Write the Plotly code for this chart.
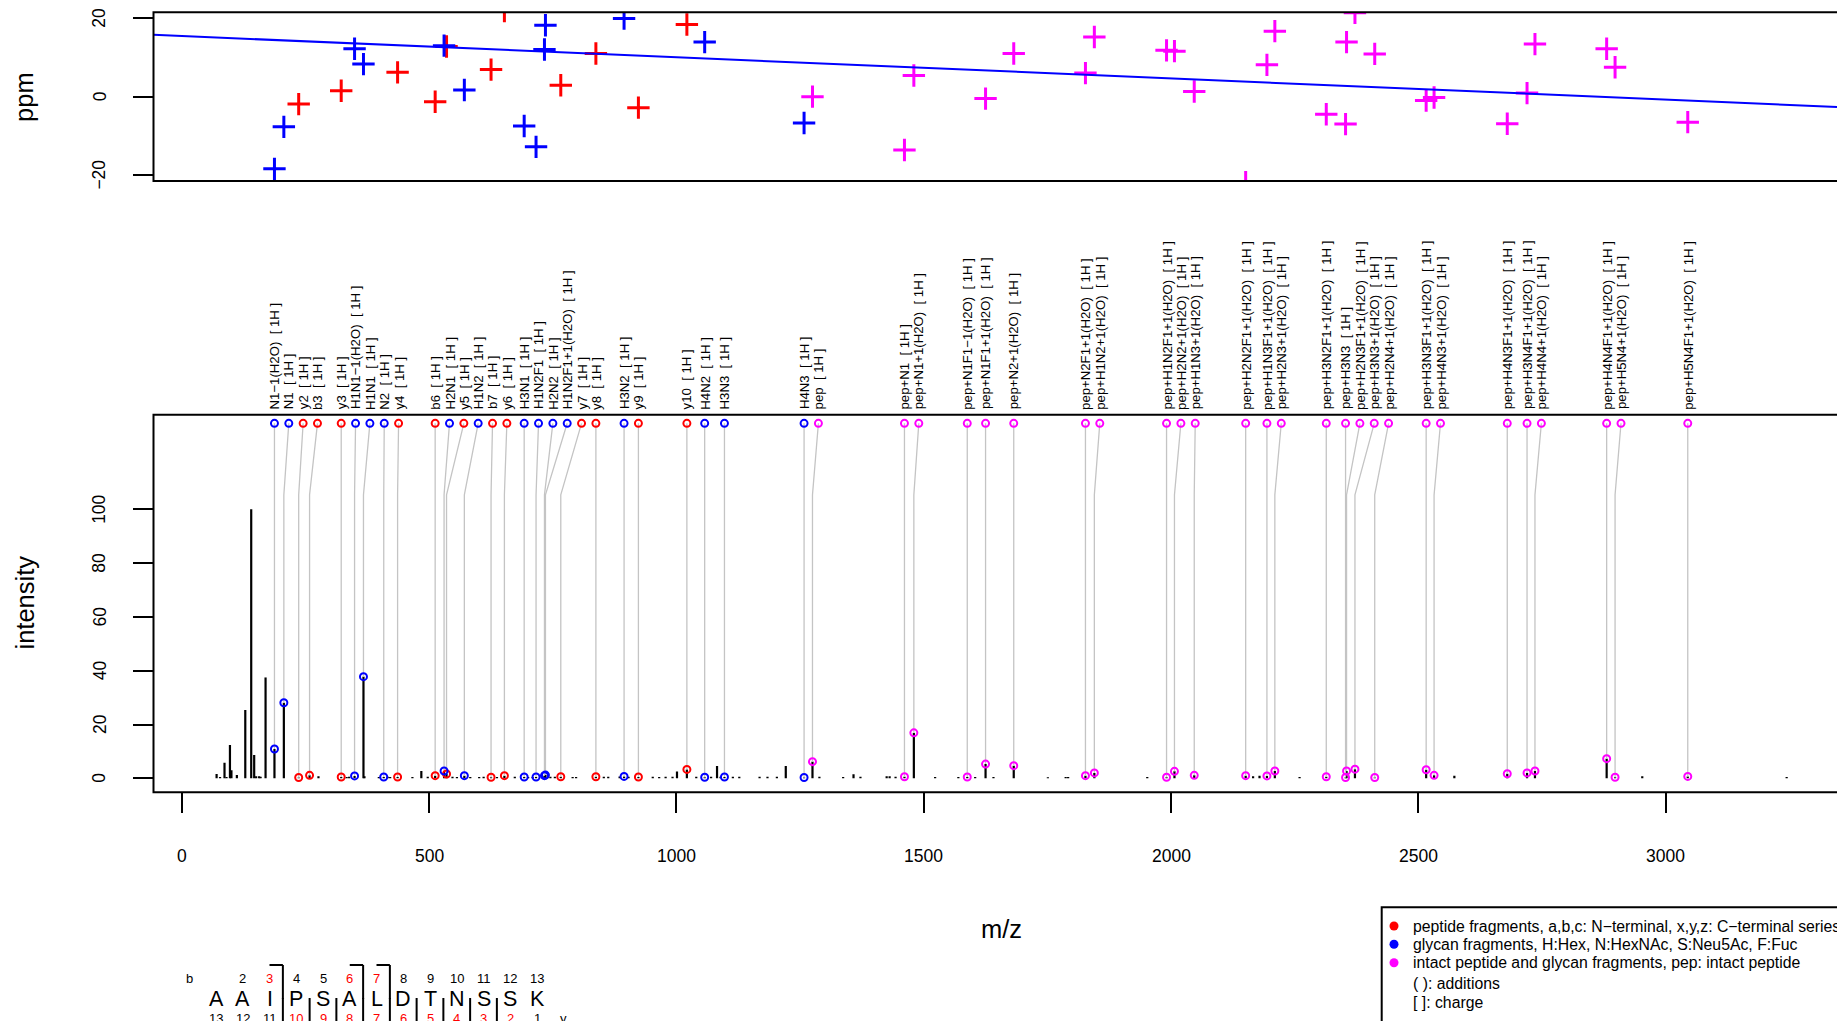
import re
import plotly.graph_objects as go

# ---------------- data ----------------
ion_labels = [
    "N1−1(H2O)", "N1", "y2", "b3", "y3", "H1N1−1(H2O)", "H1N1", "N2", "y4", "b6",
    "H2N1", "y5", "H1N2", "b7", "y6", "H3N1", "H1N2F1", "H2N2", "H1N2F1+1(H2O)", "y7",
    "y8", "H3N2", "y9", "y10", "H4N2", "H3N3", "H4N3", "pep", "pep+N1", "pep+N1+1(H2O)",
    "pep+N1F1−1(H2O)", "pep+N1F1+1(H2O)", "pep+N2+1(H2O)", "pep+N2F1+1(H2O)",
    "pep+H1N2+1(H2O)", "pep+H1N2F1+1(H2O)", "pep+H2N2+1(H2O)", "pep+H1N3+1(H2O)",
    "pep+H2N2F1+1(H2O)", "pep+H1N3F1+1(H2O)", "pep+H2N3+1(H2O)", "pep+H3N2F1+1(H2O)",
    "pep+H3N3", "pep+H2N3F1+1(H2O)", "pep+H3N3+1(H2O)", "pep+H2N4+1(H2O)",
    "pep+H3N3F1+1(H2O)", "pep+H4N3+1(H2O)", "pep+H4N3F1+1(H2O)", "pep+H3N4F1+1(H2O)",
    "pep+H4N4+1(H2O)", "pep+H4N4F1+1(H2O)", "pep+H5N4+1(H2O)", "pep+H5N4F1+1(H2O)",
]
ion_charge = "1H"
ion_mz = [187, 206, 236, 258, 322, 349, 367, 408, 436, 512,
          530, 535, 571, 625, 652, 692, 716, 733, 735, 766,
          837, 894, 923, 1021, 1057, 1097, 1258, 1275, 1461, 1480,
          1588, 1625, 1682, 1827, 1845, 1991, 2007, 2047, 2151, 2194,
          2210, 2314, 2353, 2355, 2372, 2412, 2516, 2532, 2680, 2720,
          2736, 2881, 2898, 3045]
ion_intensity = [10.9, 28.1, 0.3, 1.1, 0.5, 0.9, 37.8, 0.5, 0.5, 1.0,
                 2.7, 1.6, 1.0, 0.4, 1.0, 0.5, 0.5, 1.0, 1.2, 0.6,
                 0.6, 0.7, 0.5, 3.3, 0.4, 0.5, 0.3, 6.2, 0.6, 16.9,
                 0.5, 5.3, 4.7, 1.0, 2.0, 0.4, 2.6, 1.1, 1.0, 0.9,
                 2.7, 0.6, 0.3, 2.7, 3.4, 0.3, 3.2, 1.1, 1.7, 2.0,
                 2.7, 7.3, 0.4, 0.7]
ion_ppm = [-18.4, -7.7, -1.9, None, 1.5, 12.2, 8.3, None, 6.2, -1.3,
           13.0, 12.8, 1.7, 6.9, 21.8, -7.5, -12.8, 12.0, 18.2, 2.9,
           11.0, 19.9, -2.8, 18.4, 13.9, None, -6.7, 0.0, -13.6, 5.4,
           None, -0.5, 11.0, 6.0, 15.2, 11.8, 11.6, 1.3, -21.8, 8.1,
           16.7, -4.5, -7.0, 13.9, 21.4, 10.9, -1.0, -0.2, -6.9, 0.9,
           13.4, 12.2, 7.5, -6.5]

other_mz = [70, 77, 86, 90, 97, 100, 111, 128, 140, 146, 150, 156, 159, 169,
            276, 333, 338, 369, 398, 416, 421, 466, 484, 497, 547, 556, 583, 601,
            610, 637, 673, 700, 709, 745, 754, 790, 797, 853, 862, 885, 903, 952,
            965, 978, 992, 1001, 1040, 1070, 1082, 1089, 1114, 1127, 1168, 1184,
            1203, 1221, 1289, 1337, 1358, 1372, 1425, 1431, 1443, 1523, 1570, 1604,
            1641, 1751, 1787, 1792, 1952, 2166, 2179, 2260, 2573, 2953, 3245]
other_intensity = [1.6, 0.5, 5.8, 0.5, 12.4, 3.0, 1.2, 25.4, 100.0, 8.7, 0.8, 0.8, 0.6, 37.5,
                   0.8, 0.5, 0.6, 0.8, 0.5, 0.6, 0.5, 0.5, 2.7, 0.6, 0.6, 0.5, 0.5, 0.5,
                   0.6, 0.5, 0.6, 0.5, 0.5, 0.6, 0.6, 0.5, 0.5, 0.6, 0.6, 0.7, 0.6, 0.6,
                   0.5, 0.6, 0.6, 2.5, 0.6, 0.6, 4.6, 0.6, 0.6, 0.6, 0.6, 0.6,
                   0.6, 4.6, 0.6, 0.5, 1.5, 0.6, 0.8, 0.8, 0.6, 0.5, 0.5, 0.5,
                   0.5, 0.4, 0.5, 0.5, 0.5, 0.8, 1.0, 0.5, 1.0, 0.8, 0.5]

ppm_fit_intercept = 15.45
ppm_fit_slope = -0.0054

x_ticks = [0, 500, 1000, 1500, 2000, 2500, 3000]
intensity_ticks = [0, 20, 40, 60, 80, 100]
ppm_ticks = [-20, 0, 20]

peptide_sequence = "AAIPSALDTNSSK"

legend_texts = [
    "peptide fragments, a,b,c: N−terminal, x,y,z: C−terminal series",
    "glycan fragments, H:Hex, N:HexNAc, S:Neu5Ac, F:Fuc",
    "intact peptide and glycan fragments, pep: intact peptide",
    "( ): additions",
    "[ ]: charge",
]

# ---------------- styling / layout constants ----------------
W, H = 1837, 1021
FONT = "Liberation Sans, Arial, Helvetica, sans-serif"
COLORS = {"peptide": "#FF0000", "glycan": "#0000FF", "intact": "#FF00FF"}
LEGEND_COLORS = ["#FF0000", "#0000FF", "#FF00FF", None, None]


def px(x):
    return x / W


def py(y):
    return 1 - y / H


def ion_type(name):
    if name.startswith("pep"):
        return "intact"
    if re.fullmatch(r"[abcxyz]\d+", name):
        return "peptide"
    return "glycan"


types = [ion_type(n) for n in ion_labels]

# label positions: spread labels to the right with a minimum gap (m/z units)
LABEL_GAP = 29.0
label_mz = []
for m in ion_mz:
    if label_mz:
        label_mz.append(max(m, label_mz[-1] + LABEL_GAP))
    else:
        label_mz.append(m)

LABEL_Y = 132.0      # intensity level of label circles
KINK_Y = 105.4       # intensity level where connector bends
TEXT_BOTTOM_PX = 410.5   # bottom of rotated label text (pixels from top)

X_LEFT_PX = 153.5
X_RANGE = [-57.6, 3346.8]

fig = go.Figure()

# spectrum sticks
all_mz = list(other_mz) + list(ion_mz)
all_int = list(other_intensity) + list(ion_intensity)
sx, sy = [], []
for m, i in zip(all_mz, all_int):
    sx += [m, m, None]
    sy += [0, i, None]
fig.add_trace(go.Scatter(x=sx, y=sy, mode="lines", xaxis="x", yaxis="y2",
                         line=dict(color="black", width=2.2), hoverinfo="skip",
                         showlegend=False))

# connectors
cx, cy = [], []
for m, i, lm in zip(ion_mz, ion_intensity, label_mz):
    cx += [lm, m, m, None]
    cy += [LABEL_Y, KINK_Y, i, None]
fig.add_trace(go.Scatter(x=cx, y=cy, mode="lines", xaxis="x", yaxis="y2",
                         line=dict(color="#C4C4C4", width=1.3), hoverinfo="skip",
                         showlegend=False))

# circles
for t, col in COLORS.items():
    xs = [m for m, tt in zip(ion_mz, types) if tt == t]
    ys = [i for i, tt in zip(ion_intensity, types) if tt == t]
    lx = [m for m, tt in zip(label_mz, types) if tt == t]
    fig.add_trace(go.Scatter(x=xs + lx, y=ys + [LABEL_Y] * len(lx), mode="markers",
                             xaxis="x", yaxis="y2",
                             marker=dict(symbol="circle-open", size=7, color=col,
                                         line=dict(width=2, color=col)),
                             showlegend=False, hoverinfo="skip"))

# ppm crosses
for t, col in COLORS.items():
    xs = [m for m, p, tt in zip(ion_mz, ion_ppm, types) if tt == t and p is not None]
    ys = [p for p, tt in zip(ion_ppm, types) if tt == t and p is not None]
    fig.add_trace(go.Scatter(x=xs, y=ys, mode="markers", xaxis="x", yaxis="y",
                             marker=dict(symbol="cross-thin", size=16, color=col,
                                         line=dict(width=3, color=col)),
                             showlegend=False, hoverinfo="skip"))

# regression line
fx = X_RANGE
fy = [ppm_fit_intercept + ppm_fit_slope * v for v in fx]
fig.add_trace(go.Scatter(x=fx, y=fy, mode="lines", xaxis="x", yaxis="y",
                         line=dict(color="#0000FF", width=2), showlegend=False,
                         hoverinfo="skip"))

annotations = []


def ann(**kw):
    base = dict(showarrow=False, xanchor="center", yanchor="middle")
    base.update(kw)
    annotations.append(base)


# ion labels
for name, lm in zip(ion_labels, label_mz):
    ann(x=lm, y=py(TEXT_BOTTOM_PX), xref="x", yref="paper",
        text=name + "\u00a0\u00a0[ " + ion_charge + " ]",
        textangle=-90, yanchor="bottom",
        font=dict(size=13.2, color="black"), borderpad=0)

# tick labels
TICK_FONT = dict(size=17.5, color="black")
for v in x_ticks:
    if X_RANGE[0] <= v <= X_RANGE[1]:
        ann(x=v, y=py(856), xref="x", yref="paper", text=str(v), font=TICK_FONT)
for v in intensity_ticks:
    ann(x=px(99.5), y=v, xref="paper", yref="y2", text=str(v), textangle=-90,
        font=TICK_FONT)
for v in ppm_ticks:
    ann(x=px(99.5), y=v, xref="paper", yref="y", text=str(v).replace("-", "−"),
        textangle=-90, font=TICK_FONT)

# axis titles
TITLE_FONT = dict(size=25.5, color="black")
ann(x=px(23.4), y=py(96.5), xref="paper", yref="paper", text="ppm", textangle=-90,
    font=TITLE_FONT)
ann(x=px(24.5), y=py(603), xref="paper", yref="paper", text="intensity", textangle=-90,
    font=TITLE_FONT)
ann(x=px(1002), y=py(929), xref="paper", yref="paper", text="m/z", font=TITLE_FONT)

# legend
LEG_TEXT_X = 1410.7
LEG_ROWS = [926, 944.3, 962.7, 983.5, 1002]
shapes = []
for txt, col, yy in zip(legend_texts, LEGEND_COLORS, LEG_ROWS):
    ann(x=px(LEG_TEXT_X), y=py(yy), xref="paper", yref="paper", text=txt,
        xanchor="left", font=dict(size=15.8, color="black"))
    if col:
        shapes.append(dict(type="circle", xref="paper", yref="paper",
                           xsizemode="pixel", ysizemode="pixel",
                           xanchor=px(1394), yanchor=py(yy),
                           x0=-4.5, x1=4.5, y0=-4.5, y1=4.5,
                           fillcolor=col, line=dict(width=0)))
shapes.append(dict(type="rect", xref="paper", yref="paper", x0=px(1381.7), x1=1.1,
                   y0=-0.1, y1=py(907.3), line=dict(color="black", width=2)))

# peptide sequence with observed fragment marks
SEQ_X0 = 216.0
SEQ_DX = 26.75
B_ROW, RES_ROW, Y_ROW = 978.3, 999.3, 1018.0
n = len(peptide_sequence)
b_obs = {int(s[1:]) for s in ion_labels if re.fullmatch(r"b\d+", s)}
y_obs = {int(s[1:]) for s in ion_labels if re.fullmatch(r"y\d+", s)}
NUM_FONT = 13

ann(x=px(SEQ_X0 - SEQ_DX), y=py(B_ROW), xref="paper", yref="paper", text="b",
    font=dict(size=NUM_FONT, color="black"))
ann(x=px(SEQ_X0 + SEQ_DX * n), y=py(Y_ROW), xref="paper", yref="paper", text="y",
    font=dict(size=NUM_FONT, color="black"))
for i, aa in enumerate(peptide_sequence):
    xc = SEQ_X0 + SEQ_DX * i
    ann(x=px(xc), y=py(RES_ROW), xref="paper", yref="paper", text=aa,
        font=dict(size=21.5, color="black"))
    k_b = i + 1
    if k_b >= 2:
        ann(x=px(xc), y=py(B_ROW), xref="paper", yref="paper", text=str(k_b),
            font=dict(size=NUM_FONT, color="#FF0000" if k_b in b_obs else "black"))
    k_y = n - i
    ann(x=px(xc), y=py(Y_ROW), xref="paper", yref="paper", text=str(k_y),
        font=dict(size=NUM_FONT, color="#FF0000" if k_y in y_obs else "black"))

BR = dict(color="black", width=2)
for k in sorted(b_obs):
    xb = SEQ_X0 + SEQ_DX * (k - 0.5)
    shapes.append(dict(type="line", xref="paper", yref="paper", x0=px(xb), x1=px(xb),
                       y0=py(965), y1=py(999), line=BR))
    shapes.append(dict(type="line", xref="paper", yref="paper", x0=px(xb - SEQ_DX / 2),
                       x1=px(xb), y0=py(965), y1=py(965), line=BR))
for k in sorted(y_obs):
    xb = SEQ_X0 + SEQ_DX * (n - k - 0.5)
    shapes.append(dict(type="line", xref="paper", yref="paper", x0=px(xb), x1=px(xb),
                       y0=py(998), y1=py(1033), line=BR))
    shapes.append(dict(type="line", xref="paper", yref="paper", x0=px(xb),
                       x1=px(xb + SEQ_DX / 2), y0=py(1033), y1=py(1033), line=BR))

# panel boxes
shapes.append(dict(type="rect", xref="paper", yref="paper", x0=px(X_LEFT_PX), x1=1.1,
                   y0=py(181.0), y1=py(12.3), line=dict(color="black", width=2)))
shapes.append(dict(type="rect", xref="paper", yref="paper", x0=px(X_LEFT_PX), x1=1.1,
                   y0=py(792.3), y1=py(414.7), line=dict(color="black", width=2)))

AX_COMMON = dict(ticks="outside", ticklen=20, tickwidth=2, tickcolor="black",
                 showticklabels=False, showgrid=False, zeroline=False, showline=False)

fig.update_layout(
    width=W, height=H, autosize=False,
    margin=dict(l=0, r=0, t=0, b=0),
    paper_bgcolor="white", plot_bgcolor="white",
    font=dict(family=FONT, color="black"),
    xaxis=dict(domain=[px(X_LEFT_PX), 1], range=X_RANGE, anchor="y2",
               tickvals=x_ticks, **AX_COMMON),
    yaxis=dict(domain=[py(181.0), py(12.3)], range=[-21.5, 21.5], anchor="x",
               tickvals=ppm_ticks, **AX_COMMON),
    yaxis2=dict(domain=[py(792.3), py(414.7)], range=[-5.2, 135.2], anchor="x",
                tickvals=intensity_ticks, **AX_COMMON),
    annotations=annotations,
    shapes=shapes,
    showlegend=False,
)

fig.write_html("out.html", config={"displayModeBar": False},
               post_script="document.body.style.margin='0';document.body.style.overflow='hidden';")
